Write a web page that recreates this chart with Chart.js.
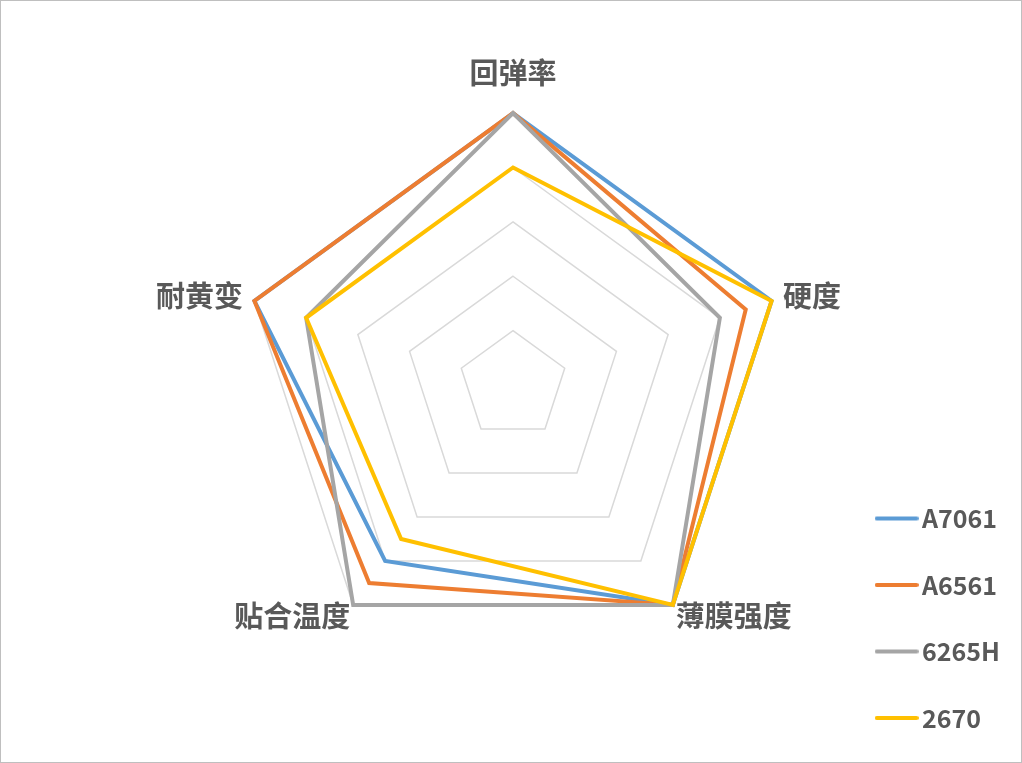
<!DOCTYPE html>
<html>
<head>
<meta charset="utf-8">
<script src="https://cdn.jsdelivr.net/npm/chart.js@4/dist/chart.umd.min.js"></script>
<style>
  html, body { margin: 0; padding: 0; background: #fff; }
  #wrap { width: 1022px; height: 763px; box-sizing: border-box; border: 1px solid #BFBFBF; position: relative; overflow: hidden; }
  #inner { position: absolute; left: 0; top: -16px; width: 1020px; height: 777px; }
  canvas { display: block; }
</style>
</head>
<body>
<div id="wrap"><div id="inner"><canvas id="radar"></canvas></div></div>
<script>
const categories = ['回弹率', '硬度', '薄膜强度', '贴合温度', '耐黄变'];
const seriesNames = ['A7061', 'A6561', '6265H', '2670'];
const a7061 = [5, 5, 5, 4, 5];
const a6561 = [5, 4.5, 5, 4.5, 5];
const s6265h = [5, 4, 5, 5, 4];
const s2670 = [4, 5, 5, 3.5, 4];
const colors = ['#5B9BD5', '#ED7D31', '#A5A5A5', '#FFC000'];

const values = [a7061, a6561, s6265h, s2670];
const labelGap = [26, 12, 5, 5, 12];
const labelLineHeight = [1, 0.1, 0.5, 0.5, 0.1];

// small line image used as legend marker (sits closer to the text than the built-in one)
function legendLine(color) {
  const c = document.createElement('canvas');
  c.width = 44; c.height = 6;
  const g = c.getContext('2d');
  g.strokeStyle = color;
  g.lineWidth = 4;
  g.lineCap = 'round';
  g.beginPath(); g.moveTo(2, 3); g.lineTo(42, 3); g.stroke();
  return c;
}

const ctx = document.getElementById('radar').getContext('2d');
new Chart(ctx, {
  type: 'radar',
  data: {
    labels: categories,
    datasets: values.map((v, i) => ({
      label: seriesNames[i],
      data: v,
      borderColor: colors[i],
      backgroundColor: colors[i],
      borderWidth: 4,
      pointRadius: 0,
      pointHoverRadius: 0,
      pointStyle: legendLine(colors[i]),
      fill: false,
      order: values.length - i
    }))
  },
  options: {
    responsive: true,
    maintainAspectRatio: false,
    animation: false,
    layout: { padding: { left: 139, right: 11, top: 0, bottom: -10 } },
    plugins: {
      tooltip: { enabled: false },
      legend: {
        position: 'right',
        align: 'end',
        labels: {
          usePointStyle: true,
          pointStyleWidth: 26,
          padding: 28,
          color: '#595959',
          // array text lets the font lineHeight set the row spacing
          generateLabels: chart => Chart.defaults.plugins.legend.labels.generateLabels(chart)
            .map(l => Object.assign(l, { text: [l.text] })),
          sort: (a, b) => a.datasetIndex - b.datasetIndex,
          font: { family: '"Noto Sans CJK SC", "Noto Sans", sans-serif', size: 25, weight: 'bold', lineHeight: '38.5px' }
        }
      }
    },
    scales: {
      r: {
        min: 0,
        max: 5,
        ticks: { stepSize: 1, display: false },
        angleLines: { display: false },
        grid: { color: '#D9D9D9', lineWidth: 1.5 },
        pointLabels: {
          color: '#595959',
          padding: c => labelGap[c.index],
          font: c => ({ family: '"Noto Sans CJK SC", sans-serif', size: 29, weight: 'bold', lineHeight: labelLineHeight[c.index] })
        }
      }
    }
  }
});
</script>
</body>
</html>
